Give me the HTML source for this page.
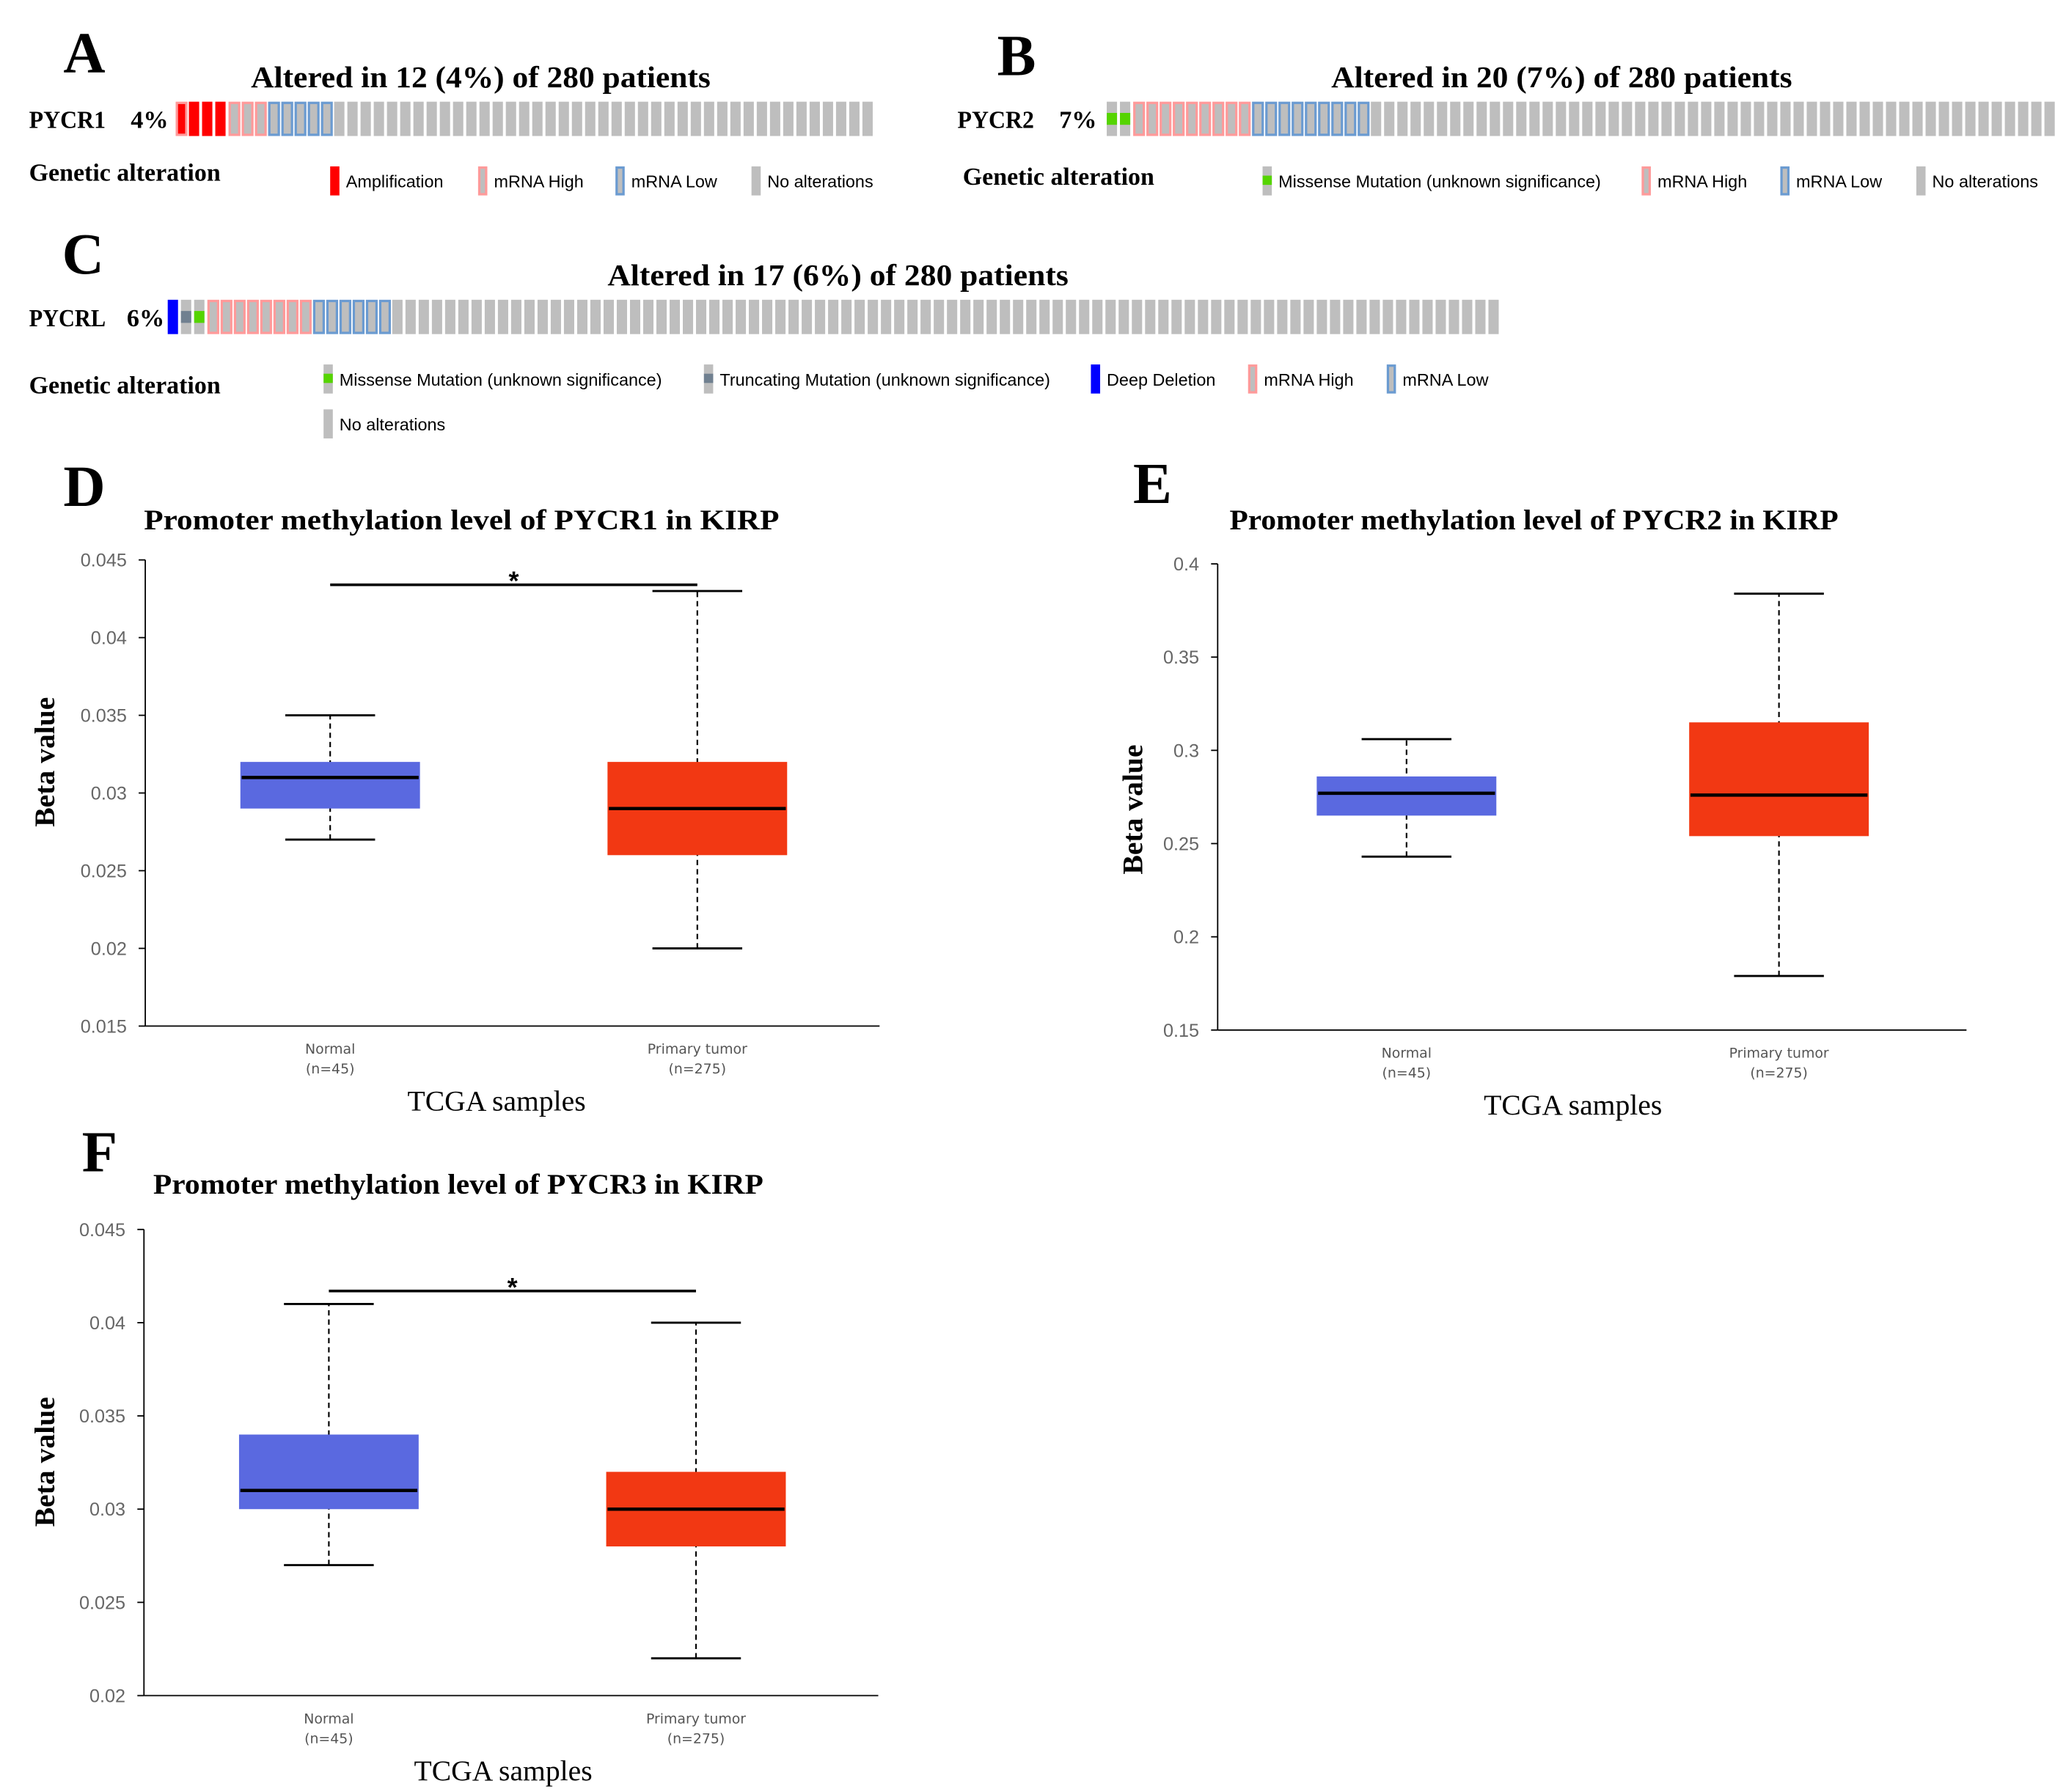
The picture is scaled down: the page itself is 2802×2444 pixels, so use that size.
<!DOCTYPE html>
<html><head><meta charset="utf-8"><style>html,body{margin:0;padding:0;background:#fff}svg{display:block}</style></head>
<body>
<svg id="fig" xmlns="http://www.w3.org/2000/svg" width="2802" height="2444" viewBox="0 0 1556 1357" preserveAspectRatio="none">
<g font-family="Liberation Serif, serif" font-weight="bold" font-size="44" fill="#000">
<text x="48" y="55">A</text>
<text x="755" y="57">B</text>
<text x="47" y="207">C</text>
<text x="48" y="383">D</text>
<text x="858" y="381">E</text>
<text x="62" y="887">F</text>
</g>
<g id="onco"></g>
<g id="boxes"></g>
</svg>
<script>
const NS='http://www.w3.org/2000/svg';
function mk(p,t,a){const e=document.createElementNS(NS,t);for(const k in a)e.setAttribute(k,a[k]);p.appendChild(e);return e;}
const onco=document.getElementById('onco'), boxes=document.getElementById('boxes');

// ---- Oncoprint data ----
const trackA=['amphigh','amp','amp','amp','high','high','high','low','low','low','low','low'];
const trackB=['mis','mis','high','high','high','high','high','high','high','high','high','low','low','low','low','low','low','low','low','low'];
const trackC=['del','trunc','mis','high','high','high','high','high','high','high','high','low','low','low','low','low','low'];
const totalA=53, totalB=72, totalC=101;

function cell(g,x,y,type){
  const w=7.8,h=26;
  if(type==='amp'){mk(g,'rect',{x:x,y:y,width:w,height:h,fill:'#ff0000'});return;}
  if(type==='del'){mk(g,'rect',{x:x,y:y,width:w,height:h,fill:'#0000ff'});return;}
  if(type==='high'||type==='low'||type==='amphigh'){
    const c=type==='low'?'#6b9bd1':'#ff9a9a';
    mk(g,'rect',{x:x,y:y,width:w+1.2,height:h,fill:c});
    mk(g,'rect',{x:x+1.8,y:y+1.8,width:w-2.4,height:h-3.6,fill:type==='amphigh'?'#ff0000':'#bebebe'});
    return;
  }
  mk(g,'rect',{x:x,y:y,width:w,height:h,fill:'#bebebe'});
  if(type==='mis')mk(g,'rect',{x:x,y:y+8.5,width:w,height:9,fill:'#55d400'});
  if(type==='trunc')mk(g,'rect',{x:x,y:y+8.5,width:w,height:9,fill:'#708090'});
}
function track(name,gene,pct,gx,px,x0,y0,arr,total,title,tx0,tx1,ty){
  const g=mk(onco,'g',{});
  
  
  const t=mk(g,'text',{x:(tx0+tx1)/2,y:ty,'text-anchor':'middle','font-family':'Liberation Serif, serif','font-weight':'bold','font-size':23,textLength:tx1-tx0,lengthAdjust:'spacingAndGlyphs'});t.textContent=title;
  
  
  const l=mk(g,'text',{x:gx,y:y0+20,'font-family':'Liberation Serif, serif','font-weight':'bold','font-size':19,textLength:58,lengthAdjust:'spacingAndGlyphs'});l.textContent=gene;
  
  
  const p=mk(g,'text',{x:px,y:y0+20,'font-family':'Liberation Serif, serif','font-weight':'bold','font-size':19});p.textContent=pct;
  
  
  for(let i=0;i<total;i++){cell(g,x0+i*10,y0,i<arr.length?arr[i]:'none');}
}
track('oncoprint-pycr1','PYCR1','4%',22,99,133,77,trackA,totalA,'Altered in 12 (4%) of 280 patients',190,538,66);
track('oncoprint-pycr2','PYCR2','7%',725,802,838,77,trackB,totalB,'Altered in 20 (7%) of 280 patients',1008,1357,66);
track('oncoprint-pycrl','PYCRL','6%',22,96,127,227,trackC,totalC,'Altered in 17 (6%) of 280 patients',460,809,216);

function legend(lx,ly,items){
  const g=mk(onco,'g',{});
  
  
  const h=mk(g,'text',{x:lx,y:ly,'font-family':'Liberation Serif, serif','font-weight':'bold','font-size':19,textLength:145,lengthAdjust:'spacingAndGlyphs'});h.textContent='Genetic alteration';
  items.forEach(it=>{
    const [sx,sy,type,label]=it;
    const sg=mk(g,'g',{});
    
    
    const w=7,hh=22,y=sy-16;
    if(type==='amp')mk(sg,'rect',{x:sx,y:y,width:w,height:hh,fill:'#ff0000'});
    else if(type==='del')mk(sg,'rect',{x:sx,y:y,width:w,height:hh,fill:'#0000ff'});
    else if(type==='high'||type==='low'){mk(sg,'rect',{x:sx,y:y,width:w,height:hh,fill:type==='low'?'#6b9bd1':'#ff9a9a'});mk(sg,'rect',{x:sx+1.8,y:y+1.8,width:w-3.6,height:hh-3.6,fill:'#bebebe'});}
    else{mk(sg,'rect',{x:sx,y:y,width:w,height:hh,fill:'#bebebe'});
      if(type==='mis')mk(sg,'rect',{x:sx,y:y+7,width:w,height:7,fill:'#55d400'});
      if(type==='trunc')mk(sg,'rect',{x:sx,y:y+7,width:w,height:7,fill:'#708090'});}
    const t=mk(sg,'text',{x:sx+12,y:sy,'font-family':'Liberation Sans, sans-serif','font-size':13});t.textContent=label;
  });
}
legend(22,137,[[250,142,'amp','Amplification'],[362,142,'high','mRNA High'],[466,142,'low','mRNA Low'],[569,142,'none','No alterations']]);
legend(729,140,[[956,142,'mis','Missense Mutation (unknown significance)'],[1243,142,'high','mRNA High'],[1348,142,'low','mRNA Low'],[1451,142,'none','No alterations']]);
legend(22,298,[[245,292,'mis','Missense Mutation (unknown significance)'],[533,292,'trunc','Truncating Mutation (unknown significance)'],[826,292,'del','Deep Deletion'],[945,292,'high','mRNA High'],[1050,292,'low','mRNA Low'],[245,326,'none','No alterations']]);

// ---- Boxplot data ----
const categories=['Normal','Primary tumor'];
const sampleNs=['(n=45)','(n=275)'];
// [min, q1, median, q3, max]
const dNormal=[0.027,0.029,0.031,0.032,0.035];
const dTumor=[0.020,0.026,0.029,0.032,0.043];
const dTicks=[0.015,0.02,0.025,0.03,0.035,0.04,0.045];
const dTickLabels=['0.015','0.02','0.025','0.03','0.035','0.04','0.045'];
const eNormal=[0.243,0.265,0.277,0.286,0.306];
const eTumor=[0.179,0.254,0.276,0.315,0.384];
const eTicks=[0.15,0.2,0.25,0.3,0.35,0.4];
const eTickLabels=['0.15','0.2','0.25','0.3','0.35','0.4'];
const fNormal=[0.027,0.030,0.031,0.034,0.041];
const fTumor=[0.022,0.028,0.030,0.032,0.040];
const fTicks=[0.02,0.025,0.03,0.035,0.04,0.045];
const fTickLabels=['0.02','0.025','0.03','0.035','0.04','0.045'];
const dSig=0.0434, fSig=0.0417;

function plot(o){
  const g=mk(boxes,'g',{});
  
  
  const y=v=>o.yb-(v-o.lo)/(o.hi-o.lo)*(o.yb-o.yt);
  const t=mk(g,'text',{x:(o.t0+o.t1)/2,y:o.ty,'text-anchor':'middle','font-family':'Liberation Serif, serif','font-weight':'bold','font-size':22,textLength:o.t1-o.t0,lengthAdjust:'spacingAndGlyphs'});t.textContent=o.title;
  
  
  mk(g,'line',{x1:o.ax,y1:o.yt,x2:o.ax,y2:o.yb,stroke:'#000','stroke-width':1});
  mk(g,'line',{x1:o.ax,y1:o.yb,x2:o.ax2,y2:o.yb,stroke:'#000','stroke-width':1});
  o.ticks.forEach((v,i)=>{
    mk(g,'line',{x1:o.ax-5,y1:y(v),x2:o.ax,y2:y(v),stroke:'#000','stroke-width':1});
    const tl=mk(g,'text',{x:o.ax-14,y:y(v)+5,'text-anchor':'end','font-family':'Liberation Sans, sans-serif','font-size':14,fill:'#666'});tl.textContent=o.labels[i];
    
    
  });
  const cols=['#5a69e0','#f23813'];
  [o.n,o.t].forEach((d,i)=>{
    const cx=o.cx[i];
    const bg=mk(g,'g',{});
    
    
    mk(bg,'line',{x1:cx,y1:y(d[0]),x2:cx,y2:y(d[4]),stroke:'#000','stroke-width':1.2,'stroke-dasharray':'4,3'});
    mk(bg,'line',{x1:cx-34,y1:y(d[0]),x2:cx+34,y2:y(d[0]),stroke:'#000','stroke-width':1.6});
    mk(bg,'line',{x1:cx-34,y1:y(d[4]),x2:cx+34,y2:y(d[4]),stroke:'#000','stroke-width':1.6});
    mk(bg,'rect',{x:cx-68,y:y(d[3]),width:136,height:y(d[1])-y(d[3]),fill:cols[i]});
    mk(bg,'line',{x1:cx-67,y1:y(d[2]),x2:cx+67,y2:y(d[2]),stroke:'#000','stroke-width':2.5});
    const c1=mk(g,'text',{x:cx,y:o.yb+21,'text-anchor':'middle','font-family':'DejaVu Sans, sans-serif','font-size':10.5,fill:'#555'});c1.textContent=categories[i];
    
    
    const c2=mk(g,'text',{x:cx,y:o.yb+36,'text-anchor':'middle','font-family':'DejaVu Sans, sans-serif','font-size':10.5,fill:'#555'});c2.textContent=sampleNs[i];
  });
  if(o.sig!==undefined){
    const sg=mk(g,'g',{});
    
    
    mk(sg,'line',{x1:o.cx[0],y1:y(o.sig),x2:o.cx[1],y2:y(o.sig),stroke:'#000','stroke-width':2});
    const s=mk(sg,'text',{x:(o.cx[0]+o.cx[1])/2,y:y(o.sig)+4,'text-anchor':'middle','font-family':'Liberation Sans, sans-serif','font-weight':'bold','font-size':20});s.textContent='*';
  }
  const xt=mk(g,'text',{x:o.xtx,y:o.yb+64,'text-anchor':'middle','font-family':'Liberation Serif, serif','font-size':22});xt.textContent='TCGA samples';
  
  
  const yt=mk(g,'text',{x:0,y:0,'text-anchor':'middle','font-family':'Liberation Serif, serif','font-weight':'bold','font-size':22,transform:`translate(${o.ytx},${o.yty}) rotate(-90)`});yt.textContent='Beta value';
  
  
}
plot({name:'boxplot-pycr1',title:'Promoter methylation level of PYCR1 in KIRP',t0:109,t1:590,ty:401,ax:110,ax2:666,yt:424,yb:777,lo:0.015,hi:0.045,ticks:dTicks,labels:dTickLabels,n:dNormal,t:dTumor,cx:[250,528],sig:dSig,xtx:376,ytx:41,yty:577});
plot({name:'boxplot-pycr2',title:'Promoter methylation level of PYCR2 in KIRP',t0:931,t1:1392,ty:401,ax:922,ax2:1489,yt:427,yb:780,lo:0.15,hi:0.4,ticks:eTicks,labels:eTickLabels,n:eNormal,t:eTumor,cx:[1065,1347],xtx:1191,ytx:865,yty:613});
plot({name:'boxplot-pycr3',title:'Promoter methylation level of PYCR3 in KIRP',t0:116,t1:578,ty:904,ax:109,ax2:665,yt:931,yb:1284,lo:0.02,hi:0.045,ticks:fTicks,labels:fTickLabels,n:fNormal,t:fTumor,cx:[249,527],sig:fSig,xtx:381,ytx:41,yty:1107});
</script>
</body></html>
